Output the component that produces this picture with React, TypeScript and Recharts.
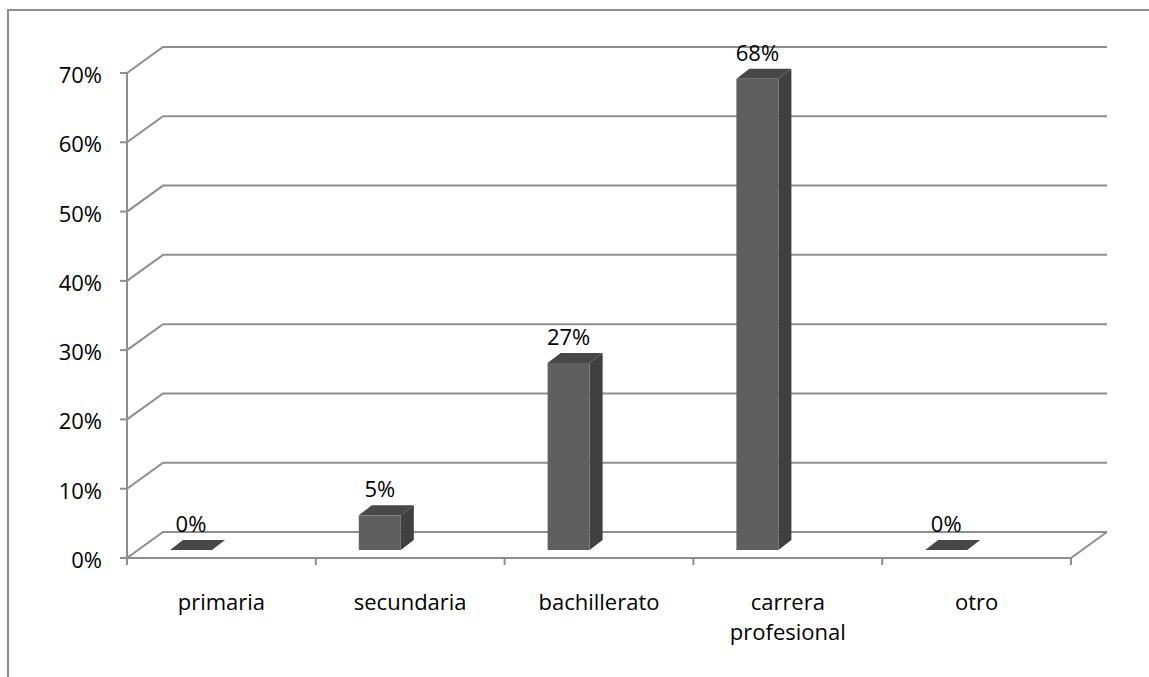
import { BarChart, Bar, XAxis, YAxis, CartesianGrid, LabelList } from "recharts";

const categories = ["primaria", "secundaria", "bachillerato", "carrera profesional", "otro"];
const shares = [0, 0.05, 0.27, 0.68, 0];
const yTicks = [0, 0.1, 0.2, 0.3, 0.4, 0.5, 0.6, 0.7];

const data = categories.map((name, i) => ({ name, value: shares[i] }));

// layout of the chart box (page coordinates)
const W = 1149;
const H = 677;
const PLOT_LEFT = 127;
const PLOT_TOP = 73;
const PLOT_RIGHT = 1071;
const PLOT_BOTTOM = 558;
const BAND = (PLOT_RIGHT - PLOT_LEFT) / categories.length;

// oblique projection of the back wall and of the bar depth
const WALL_DX = 36;
const WALL_DY = -26;
const BAR_DX = 13;
const BAR_DY = -10;
const BAR_SHIFT_X = -30;
const BAR_LIFT = -8;

const GRID = "#8e8e8e";
const FONT = "'Open Sans', sans-serif";
const FS = 22;

const pct = (v: number) => `${Math.round(v * 100)}%`;

function WallLine(props: any) {
  const { x1, y1, x2, key } = props;
  let d = `M${x1},${y1} L${x1 + WALL_DX},${y1 + WALL_DY} L${x2 + WALL_DX},${y1 + WALL_DY}`;
  if (Math.abs(y1 - PLOT_BOTTOM) < 1) {
    // right edge of the floor
    d += ` M${x2},${y1} L${x2 + WALL_DX},${y1 + WALL_DY}`;
  }
  return <path key={key} d={d} fill="none" stroke={GRID} strokeWidth={2} />;
}

function Box3D(props: any) {
  const { x, y, width, height } = props;
  const fx = x + BAR_SHIFT_X;
  const top = y + BAR_LIFT;
  const bottom = top + height;
  const r = fx + width;
  return (
    <g>
      <polygon
        points={`${r},${top} ${r + BAR_DX},${top + BAR_DY} ${r + BAR_DX},${bottom + BAR_DY} ${r},${bottom}`}
        fill="#404040"
      />
      {height > 0 && <rect x={fx} y={top} width={width} height={height} fill="#5f5f5f" />}
      <polygon
        points={`${fx},${top} ${fx + BAR_DX},${top + BAR_DY} ${r + BAR_DX},${top + BAR_DY} ${r},${top}`}
        fill="#474747"
      />
    </g>
  );
}

function BarValue(props: any) {
  const { x, y, width, value } = props;
  return (
    <text
      x={x + BAR_SHIFT_X + width / 2}
      y={y + BAR_LIFT - 18}
      textAnchor="middle"
      fontFamily={FONT}
      fontSize={FS}
      fill="#000"
    >
      {pct(value)}
    </text>
  );
}

function CategoryTick(props: any) {
  const { x, y, payload, index } = props;
  const lines = String(payload.value).split(" ");
  const axisY = y - 7;
  const left = x - BAND / 2;
  return (
    <g>
      <line x1={left} y1={axisY} x2={left} y2={axisY + 7} stroke={GRID} strokeWidth={2} />
      {index === categories.length - 1 && (
        <line x1={x + BAND / 2} y1={axisY} x2={x + BAND / 2} y2={axisY + 7} stroke={GRID} strokeWidth={2} />
      )}
      {lines.map((ln, i) => (
        <text
          key={i}
          x={x}
          y={axisY + 52 + i * 30}
          textAnchor="middle"
          fontFamily={FONT}
          fontSize={FS}
          fill="#000"
        >
          {ln}
        </text>
      ))}
    </g>
  );
}

function PercentTick(props: any) {
  const { x, y, payload } = props;
  return (
    <text x={x} y={y + 10} textAnchor="end" fontFamily={FONT} fontSize={FS} fill="#000">
      {pct(payload.value)}
    </text>
  );
}

export default function App() {
  return (
    <div style={{ position: "absolute", left: 0, top: 0, width: W, height: H, overflow: "hidden", background: "#fff" }}>
      <div
        style={{
          position: "absolute",
          left: 7,
          top: 9,
          width: W + 40,
          height: H + 40,
          border: `2px solid ${GRID}`,
        }}
      />
      <div style={{ position: "absolute", left: 0, top: 0 }}>
        <BarChart
          width={W}
          height={H}
          data={data}
          margin={{ top: PLOT_TOP, right: W - PLOT_RIGHT, left: 0, bottom: 0 }}
          barSize={42}
        >
          <CartesianGrid vertical={false} horizontal={WallLine} />
          <YAxis
            width={PLOT_LEFT}
            domain={[0, 0.7]}
            ticks={yTicks}
            interval={0}
            axisLine={{ stroke: GRID, strokeWidth: 2 }}
            tickLine={{ stroke: GRID, strokeWidth: 2 }}
            tickSize={7}
            tickMargin={18}
            tick={PercentTick}
          />
          <XAxis
            dataKey="name"
            height={H - PLOT_BOTTOM}
            interval={0}
            axisLine={{ stroke: GRID, strokeWidth: 2 }}
            tickLine={false}
            tickSize={7}
            tickMargin={0}
            tick={CategoryTick}
          />
          <Bar dataKey="value" shape={Box3D} isAnimationActive={false}>
            <LabelList dataKey="value" content={BarValue} />
          </Bar>
        </BarChart>
      </div>
    </div>
  );
}
